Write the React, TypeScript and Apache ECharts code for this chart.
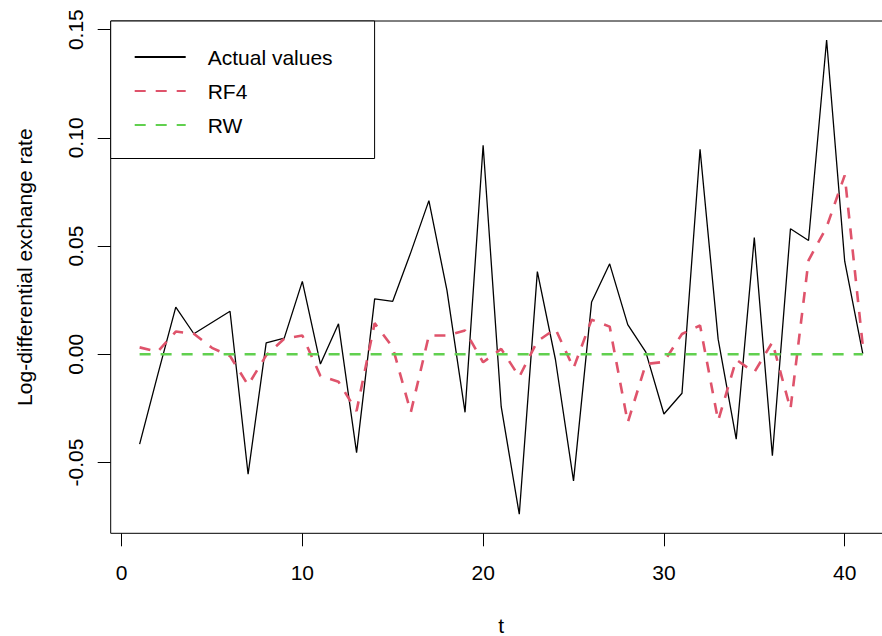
import React, { useEffect, useRef } from "react";
import * as echarts from "echarts";

const FONT = "'Liberation Sans', Arial, sans-serif";

const tValues = [
  1, 2, 3, 4, 5, 6, 7, 8, 9, 10, 11, 12, 13, 14, 15, 16, 17, 18, 19, 20, 21,
  22, 23, 24, 25, 26, 27, 28, 29, 30, 31, 32, 33, 34, 35, 36, 37, 38, 39, 40, 41,
];

const actualValues = [
  -0.0415, -0.0095, 0.0218, 0.0095, 0.0147, 0.0199, -0.0554, 0.0053, 0.0075,
  0.0337, -0.0045, 0.0141, -0.0454, 0.0256, 0.0245, 0.0471, 0.071, 0.0295,
  -0.0268, 0.0966, -0.0242, -0.0739, 0.0382, -0.0024, -0.0585, 0.0242, 0.0418,
  0.0137, 0.001, -0.0276, -0.018, 0.0947, 0.007, -0.0392, 0.0539, -0.0469,
  0.058, 0.0526, 0.1452, 0.043, 0.0003,
];

const rf4Values = [
  0.0032, 0.0012, 0.0105, 0.0095, 0.003, -0.0008, -0.0142, -0.0005, 0.0072,
  0.0087, -0.01, -0.0127, -0.0262, 0.0144, 0.0032, -0.0268, 0.0087, 0.0087,
  0.011, -0.0037, 0.0025, -0.0104, 0.006, 0.0118, -0.0064, 0.016, 0.0128,
  -0.0315, -0.0045, -0.0035, 0.0094, 0.0133, -0.0307, -0.0025, -0.0083, 0.0056,
  -0.0253, 0.0434, 0.0588, 0.0827, 0.004,
];

const rwValues = [
  0, 0, 0, 0, 0, 0, 0, 0, 0, 0, 0, 0, 0, 0, 0, 0, 0, 0, 0, 0, 0, 0, 0, 0, 0,
  0, 0, 0, 0, 0, 0, 0, 0, 0, 0, 0, 0, 0, 0, 0, 0,
];

const seriesNames = ["Actual values", "RF4", "RW"];
const xTicks = [0, 10, 20, 30, 40];
const yTicks = [-0.05, 0, 0.05, 0.1, 0.15];
const yTickLabels = ["-0.05", "0.00", "0.05", "0.10", "0.15"];

const pairs = (vals: number[]) => tValues.map((t, i) => [t, vals[i]]);

export default function App() {
  const ref = useRef<HTMLDivElement>(null);
  useEffect(() => {
    const chart = echarts.init(ref.current!, null, { renderer: "svg" });
    chart.setOption({
      animation: false,
      backgroundColor: "#fff",
      textStyle: { fontFamily: FONT },
      grid: {
        left: 110.7,
        top: 21,
        width: 781,
        height: 512.3,
        show: true,
        borderColor: "#000",
        borderWidth: 1,
        backgroundColor: "transparent",
        containLabel: false,
        outerBoundsMode: "none",
      },
      legend: {
        orient: "vertical",
        left: 110.7,
        top: 21,
        data: seriesNames,
        itemWidth: 51,
        itemHeight: 14,
        itemGap: 13,
        padding: [25.5, 42, 23, 23],
        borderColor: "#000",
        borderWidth: 1,
        backgroundColor: "#fff",
        itemStyle: {
          color: "transparent",
          borderColor: "transparent",
          borderWidth: 0,
          opacity: 0,
        },
        textStyle: {
          fontSize: 21,
          color: "#000",
          fontFamily: FONT,
          padding: [0, 0, 0, 17],
        },
      },
      xAxis: {
        type: "value",
        min: -0.6,
        max: 42.6,
        axisLine: { show: false, onZero: false },
        splitLine: { show: false },
        axisTick: {
          show: true,
          length: 13,
          customValues: xTicks,
          lineStyle: { color: "#000", width: 1 },
        },
        axisLabel: {
          customValues: xTicks,
          fontSize: 21,
          color: "#000",
          fontFamily: FONT,
          margin: 29,
        },
        name: "t",
        nameLocation: "middle",
        nameGap: 82,
        nameTextStyle: { fontSize: 21, color: "#000", fontFamily: FONT },
      },
      yAxis: {
        type: "value",
        min: -0.0827,
        max: 0.154,
        axisLine: { show: false, onZero: false },
        splitLine: { show: false },
        axisTick: {
          show: true,
          length: 13,
          customValues: yTicks,
          lineStyle: { color: "#000", width: 1 },
        },
        axisLabel: {
          customValues: yTicks,
          rotate: 90,
          fontSize: 21,
          color: "#000",
          fontFamily: FONT,
          margin: 25,
          formatter: (v: number) => {
            const idx = yTicks.findIndex((y) => Math.abs(y - v) < 1e-9);
            return idx >= 0 ? yTickLabels[idx] : "";
          },
        },
        name: "Log-differential exchange rate",
        nameLocation: "middle",
        nameRotate: 90,
        nameGap: 76,
        nameTextStyle: {
          fontSize: 21,
          color: "#000",
          fontFamily: FONT,
          padding: [0, 0, 0, 20],
        },
      },
      series: [
        {
          name: seriesNames[0],
          type: "line",
          data: pairs(actualValues),
          symbol: "none",
          itemStyle: { color: "#000" },
          lineStyle: { color: "#000", width: 1.3 },
        },
        {
          name: seriesNames[1],
          type: "line",
          data: pairs(rf4Values),
          symbol: "none",
          itemStyle: { color: "#DF536B" },
          lineStyle: { color: "#DF536B", width: 2.6, type: [11, 10] },
        },
        {
          name: seriesNames[2],
          type: "line",
          data: pairs(rwValues),
          symbol: "none",
          itemStyle: { color: "#61D04F" },
          lineStyle: { color: "#61D04F", width: 2.6, type: [11, 10] },
        },
      ],
    });
    return () => chart.dispose();
  }, []);
  return (
    <div
      style={{
        position: "fixed",
        left: 0,
        top: 0,
        width: 882,
        height: 636,
        overflow: "hidden",
        background: "#fff",
      }}
    >
      <div ref={ref} style={{ width: 900, height: 636 }} />
    </div>
  );
}
